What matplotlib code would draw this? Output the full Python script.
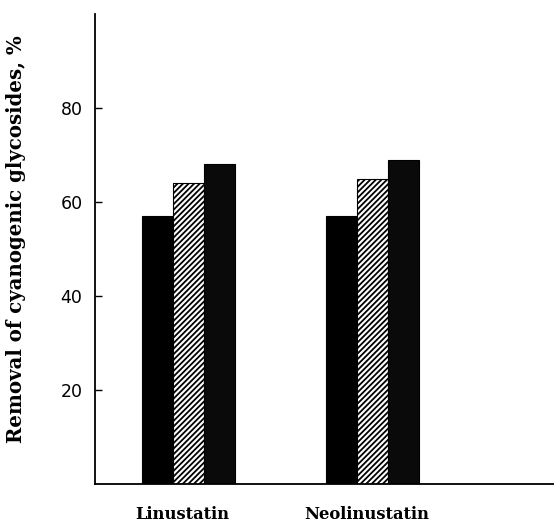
import matplotlib
matplotlib.use("Agg")
import matplotlib.pyplot as plt
import numpy as np

# values (% removal)
compounds = ["Linustatin", "Neolinustatin"]
series_a = [57, 57]   # solid black
series_b = [64, 65]   # hatched
series_c = [68, 69]   # dark stippled
yticks = [20, 40, 60, 80]

plt.rcParams['hatch.linewidth'] = 1.3
font = ['DejaVu Serif']

fig = plt.figure(figsize=(5.54, 5.24), dpi=100)
ax = fig.add_axes([0.1715, 0.0763, 0.8285, 0.897])

centers = np.array([3.0, 8.95])
w = 1.0
ax.bar(centers - w, series_a, w, color='black', edgecolor='black', linewidth=0.8)
ax.bar(centers, series_b, w, color='white', edgecolor='black', hatch='//////', linewidth=0.8)
ax.bar(centers + w, series_c, w, color='#0a0a0a', edgecolor='black', linewidth=0.8)

ax.set_xlim(0, 14.8)
ax.set_ylim(0, 100)

for s in ['top', 'right']:
    ax.spines[s].set_visible(False)
ax.spines['left'].set_linewidth(1.3)
ax.spines['bottom'].set_linewidth(1.3)

ax.set_yticks(yticks)
ax.set_yticklabels([str(v) for v in yticks], family='DejaVu Sans', fontsize=12.5)
ax.tick_params(axis='y', direction='in', length=5, width=1, pad=9)

ax.set_xticks(centers - 0.2)
ax.set_xticklabels(compounds, family=font, fontweight='bold', fontsize=11.8)
ax.tick_params(axis='x', length=0, pad=16)

ax.set_ylabel("Removal of cyanogenic glycosides, %", family=font, fontweight='bold', fontsize=14.2)
ax.yaxis.set_label_coords(-0.15, 0.52)

fig.savefig("out.png", dpi=100)
